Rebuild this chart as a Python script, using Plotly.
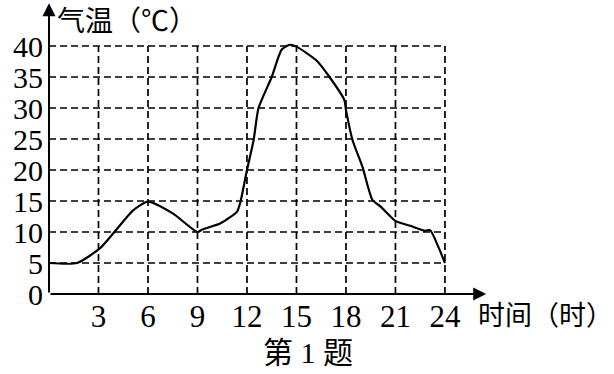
import plotly.graph_objects as go

# Data
hours = [0, 1.7, 3.1, 3.9, 5.1, 6.0, 7.5, 9.0, 9.3, 10.4, 11.4, 11.6, 12.0, 12.4, 12.7,
         13.5, 14.1, 14.6, 15.0, 16.2, 17.0, 17.9, 18.0, 18.4, 19.0, 19.6, 20.1, 21.0,
         21.9, 22.8, 23.1, 23.6, 24.0]
temps = [5.0, 5.0, 7.4, 9.8, 13.5, 14.9, 13.0, 10.0, 10.4, 11.4, 13.3, 14.8, 20.0, 24.8, 30.0,
         35.0, 39.4, 40.2, 39.9, 37.7, 35.0, 31.3, 29.7, 24.8, 20.5, 15.2, 14.1, 11.8,
         11.0, 10.2, 10.3, 7.6, 5.0]

x_ticks = [3, 6, 9, 12, 15, 18, 21, 24]
y_ticks = [0, 5, 10, 15, 20, 25, 30, 35, 40]

y_label = "气温（℃）"
x_label = "时间（时）"
caption = "第 1 题"

X_MAX = 24
Y_MAX = 40
X_RANGE = [0, 26.73]
Y_RANGE = [0, 47.42]
X_TIP = 26.5
Y_TIP = 46.9

fig = go.Figure()

# dashed grid built from the tick values
gx, gy = [], []
for yv in y_ticks[1:]:
    gx += [0, X_MAX, None]
    gy += [yv, yv, None]
for xv in x_ticks:
    gx += [xv, xv, None]
    gy += [0, Y_MAX, None]
fig.add_trace(go.Scatter(x=gx, y=gy, mode="lines",
                         line=dict(color="black", width=1.7, dash="7px,4px"),
                         hoverinfo="skip", showlegend=False))

# temperature curve
fig.add_trace(go.Scatter(x=hours, y=temps, mode="lines",
                         line=dict(color="black", width=2.2, shape="spline", smoothing=0.6),
                         showlegend=False))

serif = "Liberation Serif, Times New Roman, serif"
cjk = "Noto Sans CJK SC"

fig.update_layout(
    width=614, height=374,
    margin=dict(l=49, r=124, t=0, b=80),
    paper_bgcolor="white", plot_bgcolor="white",
    xaxis=dict(range=X_RANGE, tickvals=x_ticks, ticktext=[str(v) for v in x_ticks],
               showgrid=False, zeroline=False, showline=False, ticks="",
               tickfont=dict(family=serif, size=31, color="black"),
               ticklabelstandoff=1, fixedrange=True),
    yaxis=dict(range=Y_RANGE, tickvals=y_ticks, ticktext=[str(v) for v in y_ticks],
               showgrid=False, zeroline=False, showline=False, ticks="",
               tickfont=dict(family=serif, size=30, color="black"),
               ticklabelstandoff=5, fixedrange=True),
)

# axes with arrows
fig.add_annotation(x=X_TIP, y=0, ax=0, ay=0, xref="x", yref="y", axref="x", ayref="y",
                   text="", showarrow=True, arrowhead=2, arrowsize=1.3, arrowwidth=2,
                   arrowcolor="black", standoff=0, startstandoff=0)
fig.add_annotation(x=0, y=Y_TIP, ax=0, ay=0, xref="x", yref="y", axref="x", ayref="y",
                   text="", showarrow=True, arrowhead=2, arrowsize=1.3, arrowwidth=2,
                   arrowcolor="black", standoff=0, startstandoff=0)

fig.add_annotation(text=y_label, xref="paper", yref="paper", x=0.014, y=0.935,
                   xanchor="left", yanchor="middle", showarrow=False,
                   font=dict(family=cjk, size=28, color="black"))
fig.add_annotation(text=x_label, xref="paper", yref="paper", x=0.968, y=-0.065,
                   xanchor="left", yanchor="middle", showarrow=False,
                   font=dict(family=cjk, size=27, color="black"))
fig.add_annotation(text=caption, xref="paper", yref="paper", x=0.587, y=-0.20,
                   xanchor="center", yanchor="middle", showarrow=False,
                   font=dict(family="Liberation Serif, Noto Sans CJK SC", size=30, color="black"))

fig.write_html("out.html")
